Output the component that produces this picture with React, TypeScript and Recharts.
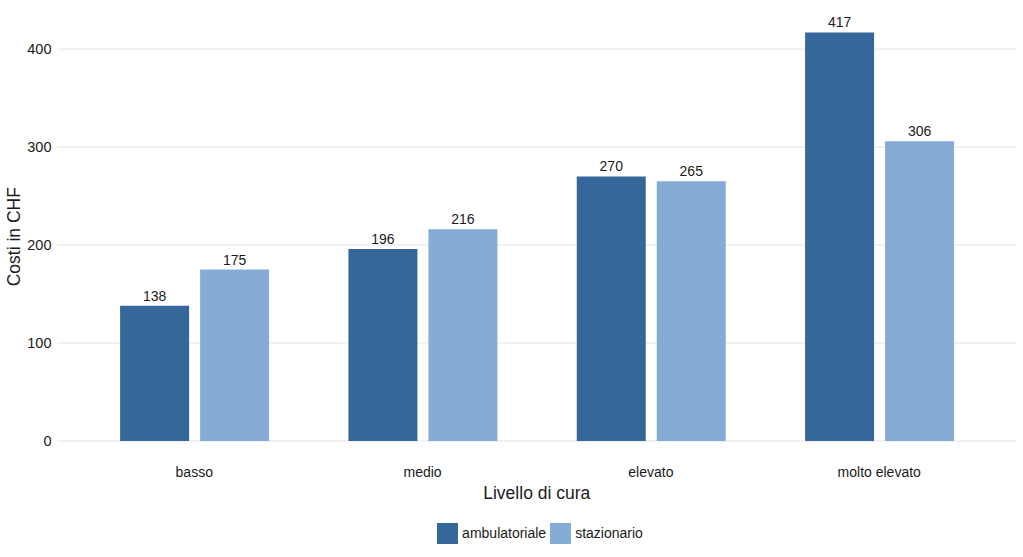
import React from 'react';
import { BarChart, Bar, XAxis, YAxis, CartesianGrid, LabelList, Legend } from 'recharts';

const categories = ['basso', 'medio', 'elevato', 'molto elevato'];
const ambulatoriale = [138, 196, 270, 417];
const stazionario = [175, 216, 265, 306];
const yTicks = [0, 100, 200, 300, 400];
const seriesNames = ['ambulatoriale', 'stazionario'];
const seriesColors = ['#35679a', '#84acd5'];

const data = categories.map((c, i) => ({
  cat: c,
  ambulatoriale: ambulatoriale[i],
  stazionario: stazionario[i],
}));

const FONT = '"Liberation Sans", Arial, Helvetica, sans-serif';
const TEXT = '#1a1a1a';

const renderLegend = () => (
  <div
    style={{
      display: 'flex',
      justifyContent: 'center',
      alignItems: 'center',
      height: 28,
      fontFamily: FONT,
      fontSize: 14,
      color: TEXT,
      paddingLeft: 68,
    }}
  >
    {seriesNames.map((n, i) => (
      <div key={n} style={{ display: 'flex', alignItems: 'center', marginRight: 4 }}>
        <div style={{ width: 21, height: 21, background: seriesColors[i], marginRight: 4 }} />
        <span>{n}</span>
      </div>
    ))}
  </div>
);

export default function App() {
  return (
    <div style={{ position: 'absolute', left: 0, top: 0, width: 1023, height: 557, background: '#fff' }}>
      <BarChart
        width={1023}
        height={557}
        data={data}
        margin={{ top: 12, right: 7, left: 0, bottom: 10 }}
        barGap={11}
        barSize={69}
      >
        <CartesianGrid vertical={false} stroke="#e4e4e4" strokeWidth={1} syncWithTicks />
        <XAxis
          dataKey="cat"
          axisLine={false}
          tickLine={false}
          tickSize={0}
          tickMargin={6}
          height={57.6}
          padding={{ left: 22.6, right: 22.6 }}
          tick={{ fontFamily: FONT, fontSize: 14, fill: TEXT }}
          label={{
            content: (props: any) => {
              const vb = props.viewBox || {};
              return (
                <text
                  x={vb.x + vb.width / 2}
                  y={vb.y + 38}
                  textAnchor="middle"
                  fontFamily={FONT}
                  fontSize={17.5}
                  fill={TEXT}
                >
                  Livello di cura
                </text>
              );
            },
          }}
        />
        <YAxis
          type="number"
          domain={[-20.85, 437.85]}
          ticks={yTicks}
          interval={0}
          allowDataOverflow
          width={57.5}
          axisLine={false}
          tickLine={false}
          tickSize={0}
          tickMargin={6}
          tick={{ fontFamily: FONT, fontSize: 14.5, fill: TEXT }}
          label={{
            content: (props: any) => {
              const vb = props.viewBox || {};
              const x = vb.x + 14;
              const y = vb.y + vb.height / 2;
              return (
                <text
                  x={x}
                  y={y}
                  transform={`rotate(-90, ${x}, ${y})`}
                  textAnchor="middle"
                  dominantBaseline="central"
                  fontFamily={FONT}
                  fontSize={17.5}
                  fill={TEXT}
                >
                  Costi in CHF
                </text>
              );
            },
          }}
        />
        <Legend verticalAlign="bottom" content={renderLegend} />
        <Bar dataKey="ambulatoriale" fill={seriesColors[0]} isAnimationActive={false}>
          <LabelList dataKey="ambulatoriale" position="top" offset={5} style={{ fontFamily: FONT, fontSize: 14, fill: TEXT }} />
        </Bar>
        <Bar dataKey="stazionario" fill={seriesColors[1]} isAnimationActive={false}>
          <LabelList dataKey="stazionario" position="top" offset={5} style={{ fontFamily: FONT, fontSize: 14, fill: TEXT }} />
        </Bar>
      </BarChart>
    </div>
  );
}
